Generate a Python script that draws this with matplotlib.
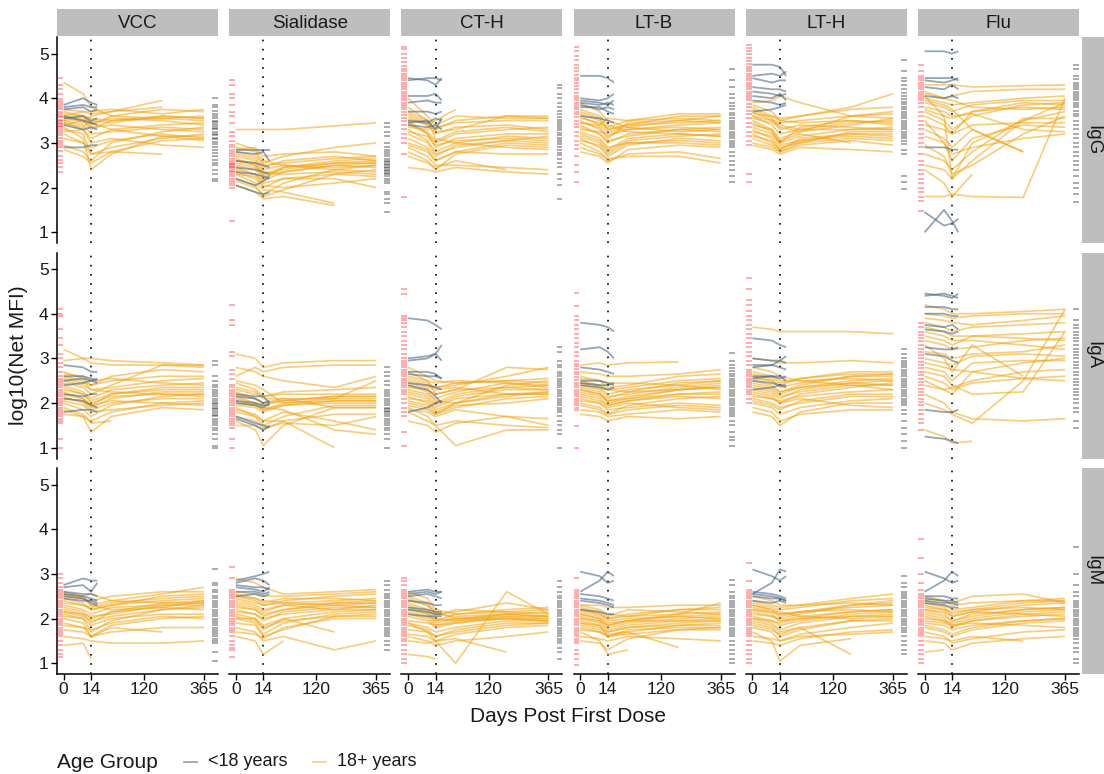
import numpy as np
import matplotlib
matplotlib.use("Agg")
import matplotlib.pyplot as plt
from matplotlib.lines import Line2D

plt.rcParams["font.family"] = ["Liberation Sans", "DejaVu Sans"]

antigens = ["VCC", "Sialidase", "CT-H", "LT-B", "LT-H", "Flu"]
isotypes = ["IgG", "IgA", "IgM"]
adult_days = [0, 7, 14, 42, 180, 365]
child_days = [0, 7, 14, 21]
x_ticks = [0, 14, 120, 365]
y_ticks = [1, 2, 3, 4, 5]
ref_day = 14

# ---------------- IgG ----------------
vcc_igg_child = [[3.8, 3.85, 3.8, 3.8], [3.85, 4.0, 3.9, 3.85], [3.75, 3.8, 3.7, 3.75],
                 [3.55, 3.6, 3.5, 3.55], [3.4, 3.3, 3.35, 3.3], [2.9, 2.9, 2.95, 2.95],
                 [3.6, 3.5, 3.45, 3.4]]
vcc_igg_adult = [[4.35, 4.1, 3.8, 3.6, 3.55, 3.5], [3.6, 3.7, 3.65, 3.7, 3.95, None],
                 [3.5, 3.55, 3.4, 3.6, 3.75, 3.7], [3.7, 3.6, 3.55, 3.5, 3.6, 3.55],
                 [3.45, 3.3, 3.1, 3.3, 3.4, 3.45], [3.3, 3.2, 2.75, 2.9, 3.1, 3.2],
                 [3.55, 3.5, 3.35, 3.4, 3.3, 3.25], [3.2, 3.0, 2.75, 2.8, 2.75, None],
                 [2.85, 2.7, 2.55, 2.8, 3.05, 3.1], [3.6, 3.45, 3.6, 3.7, 3.8, None],
                 [3.4, 3.5, 3.3, 3.5, 3.55, 3.6], [3.35, 3.1, 2.4, 2.75, 3.15, 3.15],
                 [3.75, 3.7, 3.7, 3.75, 3.65, 3.75], [3.1, 3.0, 2.9, 3.05, 3.2, 3.1],
                 [3.5, 3.4, 3.2, 3.25, 3.35, 3.3], [3.65, 3.6, 3.45, 3.55, 3.5, 3.4],
                 [3.25, 3.3, 3.0, 3.1, 2.95, 2.9], [3.45, 3.35, 3.5, 3.45, 3.6, 3.55],
                 [2.95, 2.8, 2.6, 3.0, 3.25, 3.35], [3.55, 3.6, 3.45, 3.3, 3.15, 3.05]]
vcc_igg_rug_l = [4.45, 4.3, 4.2, 4.1, 3.98, 3.93, 3.9, 3.85, 3.8, 3.75, 3.7, 3.65, 3.6, 3.57,
                 3.52, 3.48, 3.45, 3.42, 3.38, 3.35, 3.3, 3.27, 3.22, 3.18, 3.12, 3.05, 3.0,
                 2.95, 2.9, 2.82, 2.7, 2.62, 2.55, 2.45, 2.35]
vcc_igg_rug_r = [4.0, 3.85, 3.8, 3.72, 3.65, 3.6, 3.55, 3.5, 3.47, 3.42, 3.38, 3.33, 3.3, 3.25,
                 3.2, 3.17, 3.12, 3.08, 3.02, 2.98, 2.9, 2.85, 2.78, 2.7, 2.62, 2.55, 2.5, 2.4,
                 2.3, 2.2, 2.15]

sia_igg_child = [[2.85, 2.85, 2.85, 2.85], [2.8, 2.75, 2.8, 2.6], [2.6, 2.55, 2.5, 2.45],
                 [2.45, 2.4, 2.35, 2.3], [2.35, 2.3, 2.25, 2.2], [2.05, 1.9, 1.85, 1.9],
                 [2.2, 2.05, 2.15, 2.25]]
sia_igg_adult = [[3.3, 3.3, 3.3, 3.3, 3.38, 3.45], [2.8, 2.7, 2.55, 2.7, 2.9, 3.0],
                 [2.6, 2.5, 2.3, 2.4, 2.55, 2.6], [2.45, 2.3, 2.15, 2.35, 2.5, 2.55],
                 [2.9, 2.8, 2.5, 2.55, 2.65, 2.7], [2.3, 2.1, 1.95, 1.9, 1.65, None],
                 [2.7, 2.6, 2.4, 2.5, 2.4, 2.35], [2.2, 2.05, 1.8, 1.95, 2.3, 2.4],
                 [2.5, 2.4, 2.2, 2.45, 2.6, 2.65], [3.0, 2.85, 2.6, 2.5, 2.45, 2.5],
                 [2.35, 2.2, 2.0, 2.2, 2.2, 2.0], [2.6, 2.55, 2.35, 2.3, 2.35, 2.3],
                 [2.05, 1.9, 1.75, 1.8, 1.6, None], [2.75, 2.65, 2.45, 2.6, 2.7, 2.6],
                 [2.4, 2.3, 2.1, 2.2, 2.3, 2.25], [2.55, 2.45, 2.25, 2.35, 2.5, 2.45],
                 [2.85, 2.9, 2.7, 2.75, 2.8, 2.7], [2.15, 2.0, 1.85, 2.1, 2.4, 2.5],
                 [2.65, 2.5, 2.3, 2.45, 2.55, 2.55], [2.3, 2.25, 2.05, 2.0, 2.1, 2.2]]
sia_igg_rug_l = [4.4, 4.3, 4.1, 4.0, 3.85, 3.7, 3.6, 3.45, 3.25, 3.15, 3.05, 2.95, 2.9, 2.85,
                 2.8, 2.75, 2.7, 2.65, 2.6, 2.55, 2.52, 2.5, 2.47, 2.45, 2.42, 2.38, 2.35, 2.3,
                 2.25, 2.2, 2.15, 2.1, 2.05, 2.0, 1.25]
sia_igg_rug_r = [3.45, 3.35, 3.25, 3.15, 3.0, 2.9, 2.85, 2.8, 2.75, 2.7, 2.65, 2.6, 2.57, 2.53,
                 2.5, 2.47, 2.43, 2.4, 2.37, 2.33, 2.3, 2.25, 2.2, 2.15, 2.1, 1.9, 1.85, 1.75,
                 1.65, 1.45]

cth_igg_child = [[4.4, 4.45, 4.45, 4.4], [4.45, 4.4, 4.3, 4.45], [4.05, 4.05, 4.1, 3.95],
                 [3.9, 3.95, 3.9, 3.9], [3.7, 3.7, 3.65, 3.7], [3.5, 3.45, 3.55, 3.5],
                 [3.4, 3.35, 3.4, 3.3], [3.45, 3.5, 3.3, 3.55]]
cth_igg_adult = [[4.0, 3.6, 3.4, 3.6, 3.55, 3.55], [3.7, 3.5, 3.3, 3.5, 3.6, 3.55],
                 [3.5, 3.2, 2.9, 3.1, 3.2, 3.2], [3.3, 3.05, 2.8, 3.0, 3.15, 3.1],
                 [3.6, 3.4, 3.5, 3.75, None, None], [2.9, 2.7, 2.5, 2.5, 2.45, 2.4],
                 [3.45, 3.2, 3.0, 3.2, 3.3, 3.35], [2.45, 2.4, 2.35, 2.45, 2.35, 2.3],
                 [3.2, 3.0, 2.75, 2.9, 3.05, 3.0], [3.8, 3.5, 3.1, 3.0, 2.9, 2.85],
                 [3.1, 2.9, 2.7, 2.95, 3.05, 3.15], [3.55, 3.4, 3.2, 3.35, 3.4, 3.3],
                 [2.8, 2.6, 2.4, 2.75, 2.95, 2.9], [3.35, 3.3, 3.35, 3.45, 3.5, 3.5],
                 [3.0, 2.85, 2.6, 2.8, 2.75, 2.75], [3.65, 3.45, 3.25, 3.3, 3.6, 3.6],
                 [2.7, 2.55, 2.45, 2.6, 2.4, None], [3.25, 3.15, 2.95, 3.05, 3.1, 3.05],
                 [3.4, 3.25, 3.05, 3.25, 3.35, 3.25], [2.95, 2.8, 2.6, 2.8, 3.0, 2.95]]
cth_igg_rug_l = [5.15, 5.1, 5.0, 4.9, 4.8, 4.72, 4.65, 4.6, 4.55, 4.5, 4.45, 4.4, 4.35, 4.3,
                 4.25, 4.2, 4.15, 4.1, 4.05, 4.0, 3.95, 3.9, 3.85, 3.8, 3.75, 3.7, 3.62, 3.55,
                 3.48, 3.4, 3.3, 3.2, 3.1, 3.0, 2.75, 1.8]
cth_igg_rug_r = [4.3, 4.22, 4.1, 4.0, 3.9, 3.8, 3.72, 3.65, 3.58, 3.52, 3.47, 3.42, 3.38, 3.33,
                 3.28, 3.22, 3.17, 3.12, 3.07, 3.02, 2.97, 2.9, 2.85, 2.78, 2.72, 2.65, 2.55,
                 2.45, 2.3, 2.2, 2.05, 1.75]

ltb_igg_child = [[4.5, 4.5, 4.45, 4.35], [4.0, 3.95, 4.0, 4.1], [3.95, 3.9, 3.85, 3.95],
                 [3.9, 3.85, 3.9, 3.85], [3.85, 3.75, 3.8, 3.75], [3.8, 3.8, 3.7, 3.65],
                 [3.6, 3.55, 3.5, 3.45]]
ltb_igg_adult = [[3.9, 3.7, 3.5, 3.35, 3.5, 3.45], [3.7, 3.55, 3.3, 3.4, 3.45, 3.5],
                 [3.4, 3.2, 3.0, 3.2, 3.3, 3.25], [3.2, 3.05, 2.85, 3.1, 3.2, 3.15],
                 [3.5, 3.3, 3.1, 3.45, 3.5, 3.6], [3.0, 2.8, 2.6, 2.75, 2.8, 2.65],
                 [3.3, 3.25, 3.2, 3.3, 3.35, 3.3], [3.6, 3.4, 3.55, 3.5, 3.65, 3.65],
                 [3.1, 2.9, 2.7, 2.95, 3.1, 3.05], [2.9, 2.75, 2.65, 2.7, 2.7, 2.55],
                 [3.45, 3.35, 3.15, 3.3, 3.4, 3.45], [3.75, 3.6, 3.4, 3.25, 3.2, 3.15],
                 [3.25, 3.1, 2.9, 3.0, 3.05, 3.0], [3.55, 3.45, 3.35, 3.5, 3.55, 3.5],
                 [2.8, 2.7, 2.55, 2.85, 2.95, 2.9], [3.35, 3.2, 3.05, 3.15, 3.3, 3.35],
                 [3.65, 3.5, 3.3, 3.4, 3.6, 3.6], [3.05, 2.95, 2.75, 3.0, 3.0, 2.95],
                 [3.15, 3.0, 2.8, 3.05, 3.15, 3.2], [3.45, 3.4, 3.25, 3.35, 3.25, 3.3]]
ltb_igg_rug_l = [5.15, 5.05, 4.95, 4.85, 4.75, 4.68, 4.6, 4.52, 4.45, 4.4, 4.35, 4.28, 4.2,
                 4.12, 4.05, 4.0, 3.95, 3.9, 3.85, 3.8, 3.75, 3.7, 3.65, 3.58, 3.5, 3.42, 3.35,
                 3.25, 3.15, 3.05, 2.95, 2.87, 2.7, 2.5, 2.35, 2.12]
ltb_igg_rug_r = [4.65, 4.4, 4.25, 4.1, 4.0, 3.9, 3.82, 3.75, 3.68, 3.62, 3.56, 3.5, 3.45, 3.4,
                 3.35, 3.3, 3.25, 3.2, 3.15, 3.1, 3.05, 3.0, 2.95, 2.9, 2.8, 2.7, 2.6, 2.5, 2.4,
                 2.25, 2.12]

lth_igg_child = [[4.75, 4.75, 4.7, 4.5], [4.5, 4.55, 4.5, 4.6], [4.45, 4.35, 4.4, 4.4],
                 [4.25, 4.2, 4.2, 4.15], [4.15, 4.1, 4.05, 4.1], [4.05, 4.0, 4.1, 3.95],
                 [3.95, 3.9, 3.85, 3.9], [3.7, 3.75, 3.8, 3.85]]
lth_igg_adult = [[3.9, 3.95, 4.05, 3.9, 3.6, 3.55], [3.8, 3.6, 3.5, 3.6, 3.75, 3.8],
                 [3.6, 3.4, 3.2, 3.3, 3.45, 3.5], [3.5, 3.3, 3.0, 3.35, 3.5, 3.4],
                 [3.7, 3.5, 3.3, 3.4, 3.35, 3.3], [3.2, 3.0, 2.85, 3.1, 3.2, 3.2],
                 [3.4, 3.3, 3.1, 3.25, 3.6, 3.7], [3.3, 3.1, 2.9, 3.0, 3.1, 3.05],
                 [3.55, 3.45, 3.4, 3.3, 3.3, 3.3], [3.0, 2.9, 2.8, 2.95, 3.05, 2.95],
                 [3.65, 3.6, 3.55, 3.6, 3.8, 4.1], [3.25, 3.15, 3.0, 3.15, 3.3, 3.35],
                 [3.45, 3.25, 2.95, 3.05, 3.2, 3.15], [2.95, 2.85, 2.75, 2.9, 2.85, 2.8],
                 [3.75, 3.55, 3.35, 3.25, 3.4, 3.55], [3.15, 3.05, 2.85, 3.05, 3.15, 3.1],
                 [3.35, 3.2, 3.05, 3.2, 3.0, None], [3.6, 3.5, 3.45, 3.5, 3.6, 3.65],
                 [3.1, 2.95, 2.8, 3.0, 3.25, 3.25], [3.85, 3.7, 3.5, 3.45, 3.5, 3.45]]
lth_igg_rug_l = [5.2, 5.12, 5.05, 4.98, 4.9, 4.83, 4.77, 4.7, 4.65, 4.6, 4.55, 4.5, 4.45, 4.4,
                 4.35, 4.3, 4.25, 4.2, 4.15, 4.1, 4.05, 4.0, 3.95, 3.88, 3.8, 3.72, 3.65, 3.55,
                 3.45, 3.35, 3.25, 3.15, 3.05, 2.95, 2.3, 2.12]
lth_igg_rug_r = [4.85, 4.6, 4.45, 4.38, 4.3, 4.2, 4.12, 4.05, 3.98, 3.92, 3.86, 3.8, 3.75, 3.7,
                 3.65, 3.6, 3.55, 3.5, 3.45, 3.4, 3.35, 3.3, 3.25, 3.2, 3.15, 3.1, 3.05, 2.98,
                 2.85, 2.75, 2.25, 2.12, 1.97]

flu_igg_child = [[5.05, 5.05, 5.0, 5.05], [4.45, 4.45, 4.45, 4.4], [4.4, 4.35, 4.4, 4.45],
                 [4.25, 4.2, 4.3, 4.2], [4.05, 4.0, 4.05, 4.0], [2.9, 2.9, 2.85, 2.85],
                 [1.0, 1.5, 1.25, 1.0], [1.45, 1.15, 1.2, 1.3]]
flu_igg_adult = [[4.3, 4.3, 4.3, 4.25, 4.28, 4.3], [4.1, 4.0, 4.05, 4.15, 4.2, 4.2],
                 [4.0, 3.9, 3.85, 3.9, 4.0, 4.05], [3.9, 3.8, 3.7, 3.85, 3.95, 3.95],
                 [4.05, 3.6, 2.2, 3.0, 3.5, 3.9], [3.7, 3.5, 3.3, 3.6, 3.85, 3.9],
                 [3.8, 3.7, 3.6, 3.65, 3.3, 3.25], [3.5, 3.0, 2.6, 3.1, 3.4, 3.35],
                 [3.3, 3.1, 2.9, 3.3, 2.8, None], [3.6, 3.4, 3.2, 3.7, 3.8, 3.75],
                 [2.95, 2.7, 2.3, 2.5, 3.2, 3.6], [1.8, 1.8, 1.85, 1.8, 1.78, 4.0],
                 [2.4, 2.1, 1.8, 2.3, None, None], [3.4, 3.3, 3.2, 3.4, 3.45, 3.45],
                 [3.95, 3.85, 3.75, 3.3, 2.8, None], [2.5, 2.4, 2.2, 2.6, 3.5, 3.7],
                 [3.75, 3.6, 3.55, 3.7, 3.9, 3.85], [3.15, 3.0, 2.75, 2.9, 3.1, 3.2],
                 [4.15, 4.0, 3.95, 3.8, 3.75, 3.8], [2.75, 2.6, 2.4, 2.8, 3.55, 3.55]]
flu_igg_rug_l = [4.75, 4.6, 4.5, 4.45, 4.4, 4.35, 4.3, 4.25, 4.2, 4.15, 4.1, 4.05, 4.0, 3.95,
                 3.9, 3.8, 3.7, 3.6, 3.5, 3.4, 3.3, 3.2, 3.1, 3.0, 2.9, 2.75, 2.6, 2.5, 2.4, 2.3,
                 2.2, 2.1, 2.0, 1.9, 1.8, 1.7, 1.48]
flu_igg_rug_r = [4.75, 4.65, 4.5, 4.42, 4.35, 4.3, 4.25, 4.2, 4.15, 4.1, 4.05, 4.0, 3.95, 3.9,
                 3.85, 3.8, 3.72, 3.65, 3.6, 3.5, 3.4, 3.3, 3.2, 3.1, 3.0, 2.9, 2.8, 2.7, 2.6,
                 2.5, 2.4, 2.25, 2.1, 2.0, 1.85, 1.67]

# ---------------- IgA ----------------
vcc_iga_child = [[2.85, 2.8, 2.7, 2.7], [2.6, 2.6, 2.55, 2.5], [2.5, 2.55, 2.5, 2.45],
                 [2.4, 2.45, 2.5, 2.55], [2.2, 2.15, 2.2, 2.2], [1.8, 1.85, 1.85, 1.8],
                 [2.1, 2.05, 1.95, 1.9]]
vcc_iga_adult = [[3.2, 3.0, 2.9, 2.85, 2.85, 2.85], [2.95, 3.0, 3.0, 2.95, 2.9, 2.85],
                 [2.7, 2.55, 2.4, 2.6, 2.75, 2.7], [2.5, 2.4, 2.3, 2.35, 2.5, 2.55],
                 [2.3, 2.2, 2.05, 2.2, 2.3, 2.3], [2.15, 2.0, 1.85, 2.0, 2.1, 2.1],
                 [2.4, 2.25, 2.1, 2.3, 2.4, 2.45], [1.9, 1.75, 1.55, 1.6, None, None],
                 [2.6, 2.5, 2.3, 2.25, 2.2, 2.2], [2.0, 1.85, 1.7, 1.95, 2.15, 2.2],
                 [2.55, 2.45, 2.4, 2.5, 2.6, 2.6], [2.25, 2.1, 1.95, 2.05, 2.0, 1.95],
                 [1.85, 1.7, 1.35, 1.7, 1.9, 1.85], [2.45, 2.35, 2.2, 2.4, 2.85, 2.8],
                 [2.1, 2.05, 1.9, 2.1, 2.25, 2.25], [2.35, 2.2, 2.0, 2.15, 2.2, 2.15],
                 [2.65, 2.6, 2.5, 2.55, 2.45, 2.4], [1.75, 1.7, 1.6, 1.8, 2.0, 2.05],
                 [2.2, 2.1, 1.95, 2.2, 2.35, 2.35], [2.05, 1.95, 1.8, 1.85, 1.95, 2.0]]
vcc_iga_rug_l = [4.1, 4.0, 3.95, 3.65, 3.45, 3.3, 3.1, 3.0, 2.9, 2.8, 2.7, 2.6, 2.55, 2.5, 2.45,
                 2.4, 2.35, 2.3, 2.25, 2.2, 2.15, 2.1, 2.05, 2.0, 1.95, 1.9, 1.85, 1.8, 1.75,
                 1.7, 1.65, 1.6, 1.55, 1.2, 1.0]
vcc_iga_rug_r = [2.95, 2.85, 2.6, 2.5, 2.4, 2.35, 2.3, 2.25, 2.2, 2.15, 2.1, 2.05, 2.0, 1.97,
                 1.93, 1.9, 1.86, 1.82, 1.78, 1.74, 1.7, 1.65, 1.6, 1.55, 1.5, 1.45, 1.4, 1.3,
                 1.2, 1.05, 1.0]

sia_iga_child = [[2.2, 2.15, 2.15, 2.0], [2.15, 2.1, 2.0, 2.05], [2.05, 2.0, 1.95, 1.95],
                 [2.0, 1.95, 1.9, 2.0], [1.7, 1.55, 1.5, 1.45], [1.65, 1.5, 1.4, 1.5]]
sia_iga_adult = [[3.1, 3.0, 2.8, 2.9, 2.95, 2.95], [2.6, 2.8, 2.7, 2.8, 2.85, 2.85],
                 [2.8, 2.7, 2.6, 2.5, 2.35, 2.6], [2.2, 2.1, 2.0, 2.1, 2.1, 2.1],
                 [2.0, 1.95, 1.85, 2.0, 2.05, 2.05], [1.9, 1.7, 1.5, 1.7, 1.95, 1.95],
                 [2.3, 2.2, 2.15, 2.2, 2.2, 2.2], [1.6, 1.4, 1.05, 1.5, 1.9, 1.9],
                 [2.1, 2.0, 1.9, 1.85, 1.4, 1.3], [1.8, 1.7, 1.6, 1.6, 1.0, None],
                 [2.5, 2.4, 2.3, 2.0, 2.1, 2.5], [1.95, 1.9, 1.8, 1.95, 2.0, 2.0],
                 [2.15, 2.0, 1.95, 2.05, 2.15, 2.15], [1.7, 1.6, 1.45, 1.55, 1.5, 1.7],
                 [2.35, 2.25, 2.1, 2.1, 1.9, 1.9], [1.5, 1.5, 1.4, 1.6, 1.75, 1.75],
                 [2.05, 1.95, 1.85, 1.95, 2.05, 2.05], [2.45, 2.3, 2.15, 2.25, 2.3, 2.35],
                 [1.85, 1.75, 1.6, 1.8, 1.6, 1.4], [2.25, 2.1, 2.0, 2.05, 2.15, 2.15]]
sia_iga_rug_l = [4.2, 3.85, 3.75, 3.15, 3.05, 2.75, 2.65, 2.55, 2.4, 2.35, 2.3, 2.25, 2.2, 2.15,
                 2.1, 2.05, 2.0, 1.95, 1.9, 1.85, 1.8, 1.75, 1.7, 1.65, 1.6, 1.55, 1.5, 1.45,
                 1.2, 1.0]
sia_iga_rug_r = [2.8, 2.7, 2.6, 2.5, 2.4, 2.3, 2.25, 2.2, 2.15, 2.1, 2.05, 2.0, 1.95, 1.9, 1.87,
                 1.83, 1.8, 1.75, 1.7, 1.65, 1.6, 1.55, 1.5, 1.45, 1.4, 1.3, 1.2, 1.0]

cth_iga_child = [[3.9, 3.85, 3.75, 3.65], [3.0, 3.05, 3.1, 3.3], [2.95, 3.0, 3.1, 2.95],
                 [2.7, 2.7, 2.65, 2.55], [2.65, 2.6, 2.6, 2.55], [2.45, 2.4, 2.35, 2.3],
                 [2.4, 2.3, 2.15, 2.0], [1.8, 1.9, 2.0, 2.05]]
cth_iga_adult = [[2.8, 2.6, 2.5, 2.45, 2.5, 2.55], [2.5, 2.4, 2.35, 2.4, 2.6, 2.8],
                 [2.3, 2.2, 2.1, 2.25, 2.45, 2.4], [2.2, 2.1, 1.95, 2.15, 2.3, 2.3],
                 [2.4, 2.25, 2.05, 2.0, 2.4, 2.5], [2.0, 1.9, 1.75, 1.9, 2.1, 2.15],
                 [2.6, 2.5, 2.45, 2.5, 2.45, 2.35], [1.9, 1.7, 1.5, 1.6, 1.5, 1.45],
                 [2.15, 2.0, 1.85, 2.0, 2.2, 2.25], [1.8, 1.6, 1.5, 1.05, 1.4, 1.4],
                 [2.35, 2.3, 2.2, 2.3, 2.35, 2.3], [2.05, 1.95, 1.8, 1.95, 2.0, 2.1],
                 [2.7, 2.5, 2.2, 2.3, 2.8, 2.75], [1.85, 1.8, 1.7, 1.85, 1.7, 1.5],
                 [2.25, 2.15, 2.0, 2.2, 2.35, 2.4], [2.45, 2.35, 2.3, 2.35, 2.2, 2.2],
                 [1.6, 1.5, 1.35, 1.55, 1.7, 1.65], [2.1, 2.05, 1.9, 2.1, 2.2, 2.2],
                 [2.55, 2.45, 2.35, 2.45, 2.5, 2.45], [1.95, 1.85, 1.75, 2.0, 2.15, 2.25]]
cth_iga_rug_l = [4.55, 4.45, 3.95, 3.9, 3.85, 3.8, 3.7, 3.6, 3.5, 3.4, 3.3, 3.2, 3.1, 3.0, 2.95,
                 2.9, 2.85, 2.8, 2.75, 2.7, 2.65, 2.6, 2.55, 2.5, 2.45, 2.4, 2.35, 2.3, 2.25,
                 2.2, 2.1, 2.0, 1.9, 1.8, 1.7, 1.35, 1.05]
cth_iga_rug_r = [3.25, 3.15, 2.95, 2.85, 2.8, 2.7, 2.65, 2.6, 2.55, 2.5, 2.45, 2.4, 2.35, 2.3,
                 2.25, 2.2, 2.15, 2.1, 2.05, 2.0, 1.95, 1.9, 1.85, 1.8, 1.7, 1.6, 1.5, 1.4, 1.3,
                 1.0]

ltb_iga_child = [[3.8, 3.75, 3.7, 3.6], [3.2, 3.25, 3.15, 3.0], [2.8, 2.75, 2.7, 2.65],
                 [2.5, 2.5, 2.45, 2.4], [2.45, 2.4, 2.4, 2.45], [2.4, 2.35, 2.3, 2.35]]
ltb_iga_adult = [[2.85, 2.9, 2.85, 2.9, 2.92, None], [2.7, 2.65, 2.6, 2.6, 2.65, 2.75],
                 [2.5, 2.4, 2.3, 2.35, 2.5, 2.55], [2.4, 2.3, 2.15, 2.2, 2.35, 2.45],
                 [2.3, 2.2, 2.05, 2.15, 2.3, 2.35], [2.2, 2.1, 1.95, 2.05, 2.2, 2.25],
                 [2.45, 2.35, 2.2, 2.3, 2.4, 2.5], [2.1, 2.0, 1.85, 1.9, 2.0, 1.95],
                 [2.55, 2.5, 2.45, 2.45, 2.4, 2.3], [2.0, 1.9, 1.75, 1.85, 1.95, 1.9],
                 [2.35, 2.25, 2.0, 2.1, 2.2, 2.2], [1.85, 1.8, 1.7, 1.75, 1.85, 1.8],
                 [2.25, 2.15, 2.05, 2.1, 2.3, 2.4], [2.6, 2.5, 2.35, 2.4, 2.6, 2.65],
                 [1.75, 1.7, 1.6, 1.7, 1.65, 1.7], [2.15, 2.05, 1.95, 2.05, 2.15, 2.1],
                 [2.45, 2.4, 2.3, 2.25, 2.3, 2.35], [1.95, 1.85, 1.75, 1.95, 2.1, 2.15],
                 [2.3, 2.2, 2.1, 2.25, 2.45, 2.5], [2.05, 2.0, 1.9, 2.0, 1.9, 1.85]]
ltb_iga_rug_l = [4.47, 4.17, 3.95, 3.85, 3.75, 3.65, 3.55, 3.45, 3.35, 3.25, 3.15, 3.05, 2.95,
                 2.88, 2.82, 2.76, 2.7, 2.64, 2.58, 2.52, 2.46, 2.4, 2.35, 2.3, 2.25, 2.2, 2.15,
                 2.1, 2.05, 2.0, 1.95, 1.9, 1.85, 1.48, 1.0]
ltb_iga_rug_r = [3.13, 2.95, 2.85, 2.78, 2.72, 2.66, 2.6, 2.55, 2.5, 2.45, 2.4, 2.35, 2.3, 2.25,
                 2.2, 2.15, 2.1, 2.05, 2.0, 1.95, 1.9, 1.85, 1.8, 1.75, 1.7, 1.6, 1.5, 1.35,
                 1.25, 1.18, 1.04]

lth_iga_child = [[3.45, 3.4, 3.3, 3.25], [3.0, 2.95, 2.95, 2.9], [2.85, 2.85, 2.8, 2.75],
                 [2.8, 2.85, 2.95, 3.05], [2.6, 2.6, 2.55, 2.6], [2.55, 2.6, 2.6, 2.5],
                 [2.5, 2.45, 2.4, 2.35], [2.3, 2.35, 2.4, 2.4]]
lth_iga_adult = [[3.7, 3.65, 3.6, 3.6, 3.6, 3.55], [3.0, 2.95, 2.9, 2.9, 2.95, 2.9],
                 [2.6, 2.5, 2.4, 2.55, 2.7, 2.7], [2.5, 2.4, 2.25, 2.4, 2.6, 2.65],
                 [2.4, 2.3, 2.2, 2.35, 2.5, 2.55], [2.2, 2.1, 2.0, 2.2, 2.35, 2.45],
                 [2.3, 2.2, 2.1, 2.3, 2.45, 2.4], [2.0, 1.9, 1.75, 1.9, 2.05, 2.1],
                 [2.7, 2.6, 2.5, 2.5, 2.55, 2.5], [1.9, 1.8, 1.6, 1.75, 1.85, 1.85],
                 [2.55, 2.5, 2.35, 2.45, 2.6, 2.6], [2.1, 2.0, 1.9, 2.0, 2.15, 2.15],
                 [2.35, 2.25, 2.15, 2.25, 2.4, 2.4], [2.8, 2.7, 2.6, 2.5, 2.4, 2.3],
                 [1.8, 1.7, 1.5, 1.8, 2.0, 2.0], [2.45, 2.35, 2.25, 2.35, 2.45, 2.5],
                 [2.15, 2.1, 2.05, 2.15, 2.25, 2.3], [2.25, 2.15, 2.0, 2.1, 1.95, 1.9],
                 [2.65, 2.55, 2.45, 2.55, 2.65, 2.65], [2.05, 1.95, 1.85, 2.05, 2.2, 2.2]]
lth_iga_rug_l = [4.8, 4.55, 4.3, 4.2, 4.05, 3.95, 3.85, 3.75, 3.65, 3.55, 3.45, 3.35, 3.25, 3.15,
                 3.05, 2.95, 2.85, 2.75, 2.7, 2.65, 2.6, 2.55, 2.5, 2.45, 2.4, 2.35, 2.3, 2.25,
                 2.2, 2.1, 2.0]
lth_iga_rug_r = [3.2, 3.1, 3.0, 2.95, 2.9, 2.85, 2.8, 2.75, 2.7, 2.65, 2.6, 2.55, 2.5, 2.45, 2.4,
                 2.35, 2.3, 2.25, 2.2, 2.15, 2.1, 2.05, 2.0, 1.95, 1.85, 1.75, 1.6, 1.45, 1.3,
                 1.15, 1.0]

flu_iga_child = [[4.45, 4.4, 4.35, 4.45], [4.4, 4.45, 4.4, 4.35], [4.15, 4.15, 4.1, 4.1],
                 [4.0, 4.0, 3.95, 3.95], [3.75, 3.7, 3.75, 3.65], [3.65, 3.6, 3.55, 3.6],
                 [3.25, 3.2, 3.2, 3.25], [3.1, 3.05, 2.95, 2.9], [1.85, 1.8, 1.8, 1.85],
                 [1.25, 1.2, 1.15, 1.1]]
flu_iga_adult = [[4.2, 4.1, 4.0, 4.0, 4.05, 4.1], [4.0, 3.95, 3.9, 3.95, 4.0, 4.0],
                 [3.8, 3.7, 3.6, 3.7, 3.75, 3.8], [3.7, 3.6, 3.5, 3.5, 3.45, 3.4],
                 [3.5, 3.4, 3.3, 3.5, 3.55, 3.6], [3.3, 3.0, 2.7, 3.3, 2.6, None],
                 [3.0, 2.9, 2.85, 3.05, 3.1, 3.05], [3.6, 3.5, 3.4, 3.4, 3.3, 3.2],
                 [2.7, 2.6, 2.4, 2.2, 2.25, 3.6], [2.5, 2.3, 2.2, 2.7, 2.9, 3.0],
                 [2.9, 2.8, 2.75, 2.7, 2.55, 2.5], [2.0, 1.85, 1.75, 1.55, 2.5, 4.1],
                 [2.2, 2.0, 1.8, 1.65, 1.6, 1.65], [3.15, 3.1, 3.0, 3.1, 3.15, 3.3],
                 [2.4, 2.3, 2.35, 2.5, 2.7, 2.75], [3.4, 3.3, 3.2, 3.25, 3.4, 3.45],
                 [1.4, 1.25, 1.1, 1.15, None, None], [2.8, 2.7, 2.5, 2.9, 2.95, 2.95],
                 [3.9, 3.85, 3.8, 3.75, 3.85, 3.95], [2.6, 2.45, 2.3, 2.45, 2.55, 2.6]]
flu_iga_rug_l = [3.8, 3.7, 3.6, 3.52, 3.45, 3.38, 3.3, 3.22, 3.15, 3.08, 3.0, 2.92, 2.85, 2.78,
                 2.7, 2.62, 2.55, 2.48, 2.4, 2.32, 2.25, 2.18, 2.1, 2.02, 1.95, 1.85, 1.75, 1.65,
                 1.55, 1.4]
flu_iga_rug_r = [4.1, 3.85, 3.75, 3.68, 3.6, 3.52, 3.45, 3.38, 3.3, 3.22, 3.15, 3.08, 3.0, 2.92,
                 2.85, 2.78, 2.7, 2.62, 2.55, 2.48, 2.4, 2.32, 2.25, 2.18, 2.1, 2.0, 1.9, 1.8,
                 1.6, 1.45]

# ---------------- IgM ----------------
vcc_igm_child = [[2.75, 2.9, 2.85, 2.85], [2.7, 2.75, 2.6, 2.8], [2.6, 2.55, 2.55, 2.5],
                 [2.55, 2.5, 2.45, 2.4], [2.5, 2.45, 2.35, 2.3], [2.45, 2.4, 2.4, 2.35]]
vcc_igm_adult = [[2.6, 2.5, 2.3, 2.4, 2.55, 2.7], [2.5, 2.45, 2.4, 2.5, 2.6, 2.6],
                 [2.2, 2.1, 1.9, 2.15, 2.35, 2.4], [2.1, 2.0, 1.7, 1.95, 2.2, 2.3],
                 [2.4, 2.3, 2.2, 2.3, 2.4, 2.45], [2.0, 1.9, 1.6, 1.8, 1.7, None],
                 [2.3, 2.2, 2.1, 2.25, 2.3, 2.3], [1.6, 1.55, 1.5, 1.45, 1.45, 1.5],
                 [2.55, 2.5, 2.55, 2.4, 2.35, 2.35], [1.9, 1.8, 1.6, 1.85, 2.0, 2.05],
                 [1.4, 1.45, 1.1, None, None, None], [2.15, 2.05, 1.95, 2.05, 2.2, 2.25],
                 [2.45, 2.35, 2.2, 2.3, 2.5, 2.55], [1.75, 1.7, 1.6, 1.7, 1.8, 1.8],
                 [2.25, 2.15, 2.0, 2.15, 2.25, 2.2], [2.05, 2.0, 1.85, 2.0, 2.1, 2.1],
                 [2.35, 2.3, 2.25, 2.35, 2.45, 2.5], [1.85, 1.8, 1.75, 1.9, 2.05, 2.0],
                 [2.55, 2.45, 2.3, 2.2, 2.25, 2.4], [2.15, 2.1, 2.05, 2.1, 2.3, 2.35]]
vcc_igm_rug_l = [3.0, 2.9, 2.8, 2.7, 2.65, 2.6, 2.55, 2.5, 2.45, 2.4, 2.35, 2.3, 2.25, 2.2, 2.15,
                 2.1, 2.05, 2.0, 1.95, 1.9, 1.85, 1.8, 1.75, 1.7, 1.65, 1.6, 1.5, 1.4, 1.3, 1.2,
                 1.15]
vcc_igm_rug_r = [3.1, 2.8, 2.75, 2.65, 2.6, 2.5, 2.45, 2.4, 2.35, 2.3, 2.25, 2.2, 2.15, 2.1, 2.05,
                 2.0, 1.95, 1.9, 1.85, 1.8, 1.75, 1.7, 1.65, 1.6, 1.55, 1.5, 1.45, 1.25, 1.05]

sia_igm_child = [[2.85, 2.95, 3.0, 3.05], [2.8, 2.9, 2.85, 2.75], [2.75, 2.7, 2.7, 2.65],
                 [2.7, 2.65, 2.6, 2.7], [2.6, 2.6, 2.55, 2.6], [2.5, 2.55, 2.5, 2.55]]
sia_igm_adult = [[2.9, 2.8, 2.7, 2.55, 2.6, 2.65], [2.6, 2.55, 2.5, 2.5, 2.55, 2.6],
                 [2.5, 2.4, 2.3, 2.35, 2.4, 2.45], [2.3, 2.2, 2.1, 2.2, 2.3, 2.35],
                 [2.2, 2.1, 1.95, 2.15, 2.25, 2.25], [2.0, 1.9, 1.65, 1.9, 2.1, 2.15],
                 [2.4, 2.3, 2.2, 2.3, 2.35, 2.35], [1.8, 1.7, 1.5, 1.6, 1.3, 1.5],
                 [2.1, 2.0, 1.85, 2.0, 2.15, 2.2], [1.6, 1.5, 1.2, 1.5, None, None],
                 [2.45, 2.35, 2.3, 2.4, 2.5, 2.55], [1.9, 1.85, 1.6, 1.75, 2.05, 2.1],
                 [2.35, 2.25, 2.15, 2.3, 2.2, 2.2], [2.0, 2.0, 1.75, 2.0, 1.7, None],
                 [2.55, 2.45, 2.35, 2.45, 2.45, 2.4], [2.15, 2.1, 2.0, 2.1, 2.2, 2.3],
                 [1.7, 1.65, 1.55, 1.8, 2.0, 2.0], [2.25, 2.2, 2.05, 2.2, 2.35, 2.4],
                 [2.5, 2.45, 2.4, 2.35, 2.3, 2.25], [2.05, 1.95, 1.8, 1.95, 2.05, 2.05]]
sia_igm_rug_l = [3.15, 2.9, 2.65, 2.6, 2.55, 2.5, 2.45, 2.4, 2.35, 2.3, 2.25, 2.2, 2.15, 2.1, 2.05,
                 2.0, 1.95, 1.9, 1.85, 1.8, 1.75, 1.7, 1.6, 1.5, 1.4, 1.35, 1.3, 1.15]
sia_igm_rug_r = [2.85, 2.75, 2.65, 2.55, 2.5, 2.45, 2.4, 2.35, 2.3, 2.25, 2.2, 2.15, 2.1, 2.05,
                 2.0, 1.95, 1.9, 1.85, 1.8, 1.75, 1.7, 1.65, 1.6, 1.5, 1.4, 1.3]

cth_igm_child = [[2.6, 2.65, 2.6, 2.6], [2.55, 2.6, 2.55, 2.6], [2.5, 2.55, 2.5, 2.45],
                 [2.4, 2.35, 2.3, 2.3], [2.25, 2.2, 2.15, 2.15], [2.2, 2.15, 2.1, 2.1],
                 [2.1, 2.05, 2.05, 2.05]]
cth_igm_adult = [[2.6, 2.45, 2.2, 2.1, 2.15, 2.2], [2.4, 2.3, 2.1, 2.05, 2.1, 2.15],
                 [2.2, 2.1, 1.95, 2.0, 2.05, 2.0], [2.1, 2.0, 1.85, 1.9, 2.0, 1.95],
                 [2.3, 2.15, 2.0, 1.95, 2.1, 2.05], [1.9, 1.8, 1.7, 1.8, 1.95, 1.95],
                 [1.9, 1.7, 1.5, 1.0, 2.6, 2.1], [1.6, 1.5, 1.4, 1.5, 1.6, 1.7],
                 [2.5, 2.35, 2.15, 2.0, 2.0, 1.95], [1.75, 1.7, 1.6, 1.7, 1.85, 1.9],
                 [2.25, 2.1, 1.95, 2.1, 2.2, 2.25], [1.5, 1.45, 1.5, 1.55, 1.25, None],
                 [2.05, 1.95, 1.8, 1.9, 2.05, 2.05], [2.35, 2.2, 2.05, 2.2, 2.15, 2.1],
                 [1.85, 1.75, 1.6, 1.75, 1.9, 1.9], [2.15, 2.05, 1.9, 2.0, 2.1, 2.05],
                 [1.2, 1.15, 1.1, None, None, None], [1.95, 1.9, 1.85, 1.95, 2.0, 2.0],
                 [2.45, 2.3, 2.1, 2.15, 2.35, 2.2], [1.65, 1.6, 1.5, 1.65, 1.8, 1.85]]
cth_igm_rug_l = [2.9, 2.85, 2.75, 2.65, 2.6, 2.55, 2.5, 2.45, 2.4, 2.35, 2.3, 2.25, 2.2, 2.15,
                 2.1, 2.05, 2.0, 1.95, 1.9, 1.85, 1.8, 1.75, 1.7, 1.65, 1.6, 1.55, 1.5, 1.4, 1.3,
                 1.2, 1.1, 1.0]
cth_igm_rug_r = [2.85, 2.7, 2.6, 2.5, 2.45, 2.4, 2.35, 2.3, 2.25, 2.2, 2.15, 2.1, 2.05, 2.0,
                 1.95, 1.9, 1.85, 1.8, 1.75, 1.7, 1.65, 1.6, 1.55, 1.5, 1.45, 1.35, 1.25, 1.1]

ltb_igm_child = [[2.6, 2.85, 3.05, 2.95], [3.05, 2.95, 2.8, 2.85], [2.55, 2.5, 2.45, 2.4],
                 [2.45, 2.4, 2.35, 2.3], [2.4, 2.35, 2.3, 2.25], [2.2, 2.15, 2.1, 2.1]]
ltb_igm_adult = [[2.3, 2.2, 2.1, 2.05, 2.1, 2.35], [2.2, 2.1, 2.0, 2.1, 2.2, 2.25],
                 [2.1, 2.0, 1.85, 1.95, 2.05, 2.1], [2.0, 1.9, 1.75, 1.85, 1.95, 2.0],
                 [1.9, 1.85, 1.7, 1.8, 1.9, 1.95], [1.8, 1.7, 1.6, 1.7, 1.85, 1.9],
                 [2.25, 2.15, 2.05, 2.2, 2.15, 2.1], [1.7, 1.5, 1.2, 1.3, None, None],
                 [2.15, 2.05, 1.95, 2.0, 2.05, 2.0], [1.6, 1.55, 1.5, 1.6, 1.55, 1.5],
                 [1.95, 1.85, 1.6, 1.75, 1.8, 1.8], [2.3, 2.3, 2.25, 2.25, 2.3, 2.3],
                 [1.85, 1.75, 1.65, 1.7, 1.35, None], [2.05, 1.95, 1.8, 1.9, 2.0, 2.05],
                 [1.5, 1.45, 1.3, 1.55, 1.75, 1.8], [2.1, 2.0, 1.9, 1.95, 1.95, 1.95],
                 [1.75, 1.7, 1.6, 1.65, 1.75, 1.75], [2.2, 2.1, 2.0, 2.05, 2.2, 2.2],
                 [1.9, 1.8, 1.7, 1.8, 1.85, 1.85], [2.0, 1.95, 1.85, 1.95, 2.1, 2.15]]
ltb_igm_rug_l = [2.9, 2.64, 2.6, 2.55, 2.5, 2.45, 2.4, 2.35, 2.3, 2.25, 2.2, 2.15, 2.1, 2.05, 2.0,
                 1.95, 1.9, 1.85, 1.8, 1.75, 1.7, 1.65, 1.6, 1.55, 1.5, 1.45, 1.3, 1.2, 1.1, 0.96]
ltb_igm_rug_r = [2.87, 2.75, 2.6, 2.5, 2.45, 2.4, 2.35, 2.3, 2.25, 2.2, 2.15, 2.1, 2.05, 2.0,
                 1.95, 1.9, 1.85, 1.8, 1.75, 1.7, 1.65, 1.6, 1.5, 1.4, 1.3, 1.2, 1.1, 1.0]

lth_igm_child = [[2.55, 2.8, 3.1, 3.05], [3.1, 2.95, 2.85, 2.95], [2.6, 2.55, 2.5, 2.45],
                 [2.55, 2.5, 2.45, 2.4], [2.5, 2.45, 2.45, 2.4], [2.4, 2.35, 2.4, 2.35]]
lth_igm_adult = [[2.5, 2.4, 2.3, 2.3, 2.45, 2.55], [2.3, 2.2, 2.1, 2.15, 2.25, 2.3],
                 [2.2, 2.1, 1.95, 2.0, 2.15, 2.2], [2.0, 1.9, 1.75, 1.9, 2.05, 2.1],
                 [2.1, 2.05, 2.0, 2.1, 2.3, 2.35], [1.9, 1.8, 1.6, 1.75, 1.95, 2.0],
                 [1.8, 1.7, 1.5, 1.65, 1.8, 1.9], [2.35, 2.25, 2.2, 2.25, 2.4, 2.45],
                 [1.7, 1.5, 1.05, 1.4, 1.55, None], [2.25, 2.15, 2.05, 2.15, 2.2, 2.15],
                 [1.6, 1.55, 1.5, 1.6, 1.65, 1.7], [2.05, 1.95, 1.85, 1.95, 2.1, 2.15],
                 [2.4, 2.3, 2.25, 2.3, 2.35, 2.3], [1.95, 1.85, 1.7, 1.8, 1.2, None],
                 [2.15, 2.05, 1.95, 2.05, 2.15, 2.2], [1.85, 1.75, 1.65, 1.8, 1.95, 1.95],
                 [2.3, 2.2, 2.15, 2.05, 2.0, 2.05], [1.5, 1.45, 1.4, 1.55, 1.7, 1.75],
                 [2.2, 2.15, 2.1, 2.15, 2.3, 2.4], [2.0, 1.95, 1.9, 2.0, 2.05, 2.05]]
lth_igm_rug_l = [3.24, 2.85, 2.65, 2.6, 2.55, 2.5, 2.45, 2.4, 2.35, 2.3, 2.25, 2.2, 2.15, 2.1,
                 2.05, 2.0, 1.95, 1.9, 1.85, 1.8, 1.75, 1.7, 1.65, 1.6, 1.5, 1.4, 1.3, 1.2, 1.1,
                 1.0]
lth_igm_rug_r = [2.95, 2.8, 2.7, 2.6, 2.55, 2.5, 2.45, 2.4, 2.35, 2.3, 2.25, 2.2, 2.15, 2.1, 2.05,
                 2.0, 1.95, 1.9, 1.85, 1.8, 1.75, 1.7, 1.6, 1.5, 1.4, 1.3, 1.2]

flu_igm_child = [[2.6, 2.85, 3.05, 2.95], [3.05, 2.9, 2.8, 2.85], [2.5, 2.5, 2.45, 2.45],
                 [2.45, 2.4, 2.4, 2.35], [2.4, 2.35, 2.35, 2.3], [2.35, 2.3, 2.25, 2.25]]
flu_igm_adult = [[2.5, 2.4, 2.3, 2.35, 2.4, 2.45], [2.4, 2.3, 2.2, 2.25, 2.4, 2.4],
                 [2.3, 2.2, 2.05, 2.15, 2.3, 2.35], [2.2, 2.1, 1.95, 2.1, 2.2, 2.25],
                 [2.0, 1.95, 1.9, 2.0, 2.15, 2.2], [2.1, 2.0, 1.85, 1.95, 2.05, 2.1],
                 [1.8, 1.7, 1.6, 1.75, 1.9, 1.95], [2.45, 2.4, 2.35, 2.5, 2.55, 2.35],
                 [1.6, 1.55, 1.5, 1.6, 1.5, None], [1.9, 1.85, 1.75, 1.85, 1.95, 2.0],
                 [2.35, 2.25, 2.1, 2.2, 2.25, 2.2], [1.7, 1.6, 1.45, 1.55, 1.7, 1.75],
                 [2.2, 2.15, 2.05, 2.15, 2.1, 2.05], [1.5, 1.45, 1.3, 1.45, 1.55, 1.6],
                 [2.05, 1.95, 1.8, 1.95, 2.1, 2.15], [1.25, 1.3, None, None, None, None],
                 [2.25, 2.2, 2.15, 2.2, 2.35, 2.4], [1.95, 1.9, 1.85, 1.9, 1.85, 1.8],
                 [2.15, 2.05, 1.95, 2.05, 2.2, 2.25], [1.85, 1.75, 1.65, 1.8, 1.95, 2.0]]
flu_igm_rug_l = [3.77, 3.35, 3.0, 2.8, 2.65, 2.55, 2.5, 2.45, 2.4, 2.35, 2.3, 2.25, 2.2, 2.15, 2.1,
                 2.05, 2.0, 1.95, 1.9, 1.85, 1.8, 1.75, 1.7, 1.65, 1.6, 1.5, 1.4, 1.3, 1.2, 1.1,
                 1.0]
flu_igm_rug_r = [3.6, 3.0, 2.75, 2.6, 2.5, 2.4, 2.35, 2.3, 2.25, 2.2, 2.15, 2.1, 2.05, 2.0, 1.95,
                 1.9, 1.85, 1.8, 1.75, 1.7, 1.65, 1.6, 1.55, 1.45, 1.35, 1.25, 1.1, 1.0]

panels = {
    ("VCC", "IgG"): (vcc_igg_child, vcc_igg_adult, vcc_igg_rug_l, vcc_igg_rug_r),
    ("Sialidase", "IgG"): (sia_igg_child, sia_igg_adult, sia_igg_rug_l, sia_igg_rug_r),
    ("CT-H", "IgG"): (cth_igg_child, cth_igg_adult, cth_igg_rug_l, cth_igg_rug_r),
    ("LT-B", "IgG"): (ltb_igg_child, ltb_igg_adult, ltb_igg_rug_l, ltb_igg_rug_r),
    ("LT-H", "IgG"): (lth_igg_child, lth_igg_adult, lth_igg_rug_l, lth_igg_rug_r),
    ("Flu", "IgG"): (flu_igg_child, flu_igg_adult, flu_igg_rug_l, flu_igg_rug_r),
    ("VCC", "IgA"): (vcc_iga_child, vcc_iga_adult, vcc_iga_rug_l, vcc_iga_rug_r),
    ("Sialidase", "IgA"): (sia_iga_child, sia_iga_adult, sia_iga_rug_l, sia_iga_rug_r),
    ("CT-H", "IgA"): (cth_iga_child, cth_iga_adult, cth_iga_rug_l, cth_iga_rug_r),
    ("LT-B", "IgA"): (ltb_iga_child, ltb_iga_adult, ltb_iga_rug_l, ltb_iga_rug_r),
    ("LT-H", "IgA"): (lth_iga_child, lth_iga_adult, lth_iga_rug_l, lth_iga_rug_r),
    ("Flu", "IgA"): (flu_iga_child, flu_iga_adult, flu_iga_rug_l, flu_iga_rug_r),
    ("VCC", "IgM"): (vcc_igm_child, vcc_igm_adult, vcc_igm_rug_l, vcc_igm_rug_r),
    ("Sialidase", "IgM"): (sia_igm_child, sia_igm_adult, sia_igm_rug_l, sia_igm_rug_r),
    ("CT-H", "IgM"): (cth_igm_child, cth_igm_adult, cth_igm_rug_l, cth_igm_rug_r),
    ("LT-B", "IgM"): (ltb_igm_child, ltb_igm_adult, ltb_igm_rug_l, ltb_igm_rug_r),
    ("LT-H", "IgM"): (lth_igm_child, lth_igm_adult, lth_igm_rug_l, lth_igm_rug_r),
    ("Flu", "IgM"): (flu_igm_child, flu_igm_adult, flu_igm_rug_l, flu_igm_rug_r),
}

# ---------------- styling / layout ----------------
CHILD_COLOR = "#4d6987"
ADULT_COLOR = "#f2a516"
STRIP_COLOR = "#bebebe"
TEXT_COLOR = "#1a1a1a"
W, H = 1104, 774
fig = plt.figure(figsize=(W / 100, H / 100), dpi=100)

col_left = [57 + 172.2 * j for j in range(6)]
panel_w = 161
row_top = [37, 252.5, 468]
panel_h = 206
strip_h = 27

x_lo, x_hi = -0.9, 21.0
y_lo, y_hi = 0.76, 5.37

child_x = np.sqrt(child_days)
adult_x = np.sqrt(adult_days)


def fig_rect(left, top, width, height):
    return [left / W, 1 - (top + height) / H, width / W, height / H]


def blank(ax):
    ax.set_xticks([])
    ax.set_yticks([])
    for s in ax.spines.values():
        s.set_visible(False)


for i, iso in enumerate(isotypes):
    for j, ag in enumerate(antigens):
        ax = fig.add_axes(fig_rect(col_left[j], row_top[i], panel_w, panel_h))
        child, adult, rug_l, rug_r = panels[(ag, iso)]

        ax.axvline(np.sqrt(ref_day), color="black", lw=1.2, ls=(0, (1, 4.5)), zorder=1)

        for row in adult:
            ax.plot(adult_x, np.array(row, dtype=float), color=ADULT_COLOR,
                    alpha=0.55, lw=1.25, zorder=2, solid_capstyle="butt")
        for row in child:
            ax.plot(child_x, np.array(row, dtype=float), color=CHILD_COLOR,
                    alpha=0.6, lw=1.3, zorder=3, solid_capstyle="butt")

        ytr = ax.get_yaxis_transform()
        ax.hlines(rug_l, 0, 0.036, transform=ytr, color="red", alpha=0.42, lw=1.1, zorder=4)
        ax.hlines(rug_r, 0.964, 1.0, transform=ytr, color="black", alpha=0.42, lw=1.1, zorder=4)

        ax.set_xlim(x_lo, x_hi)
        ax.set_ylim(y_lo, y_hi)
        ax.set_facecolor("white")
        for side in ["top", "right"]:
            ax.spines[side].set_visible(False)
        ax.spines["left"].set_visible(j == 0)
        ax.spines["bottom"].set_visible(i == 2)
        for side in ["left", "bottom"]:
            ax.spines[side].set_linewidth(1.1)
            ax.spines[side].set_color("black")

        ax.set_xticks(np.sqrt(x_ticks))
        ax.set_yticks(y_ticks)
        ax.tick_params(axis="both", direction="out", length=4, width=1.0,
                       color="black", labelcolor=TEXT_COLOR, labelsize=12.5, pad=2)
        if i == 2:
            ax.set_xticklabels([str(t) for t in x_ticks])
        else:
            ax.tick_params(axis="x", bottom=False, labelbottom=False)
        if j == 0:
            ax.set_yticklabels([str(t) for t in y_ticks])
        else:
            ax.tick_params(axis="y", left=False, labelleft=False)

        # column strip
        if i == 0:
            sax = fig.add_axes(fig_rect(col_left[j], row_top[0] - strip_h - 1, panel_w, strip_h))
            sax.set_facecolor(STRIP_COLOR)
            blank(sax)
            sax.text(0.5, 0.47, ag, ha="center", va="center", fontsize=13.5, color=TEXT_COLOR,
                     transform=sax.transAxes)

    # row strip
    rax = fig.add_axes(fig_rect(1082, row_top[i], 22, panel_h))
    rax.set_facecolor(STRIP_COLOR)
    blank(rax)
    rax.text(0.5, 0.5, iso, ha="center", va="center", rotation=-90, fontsize=13.5,
             color=TEXT_COLOR, transform=rax.transAxes)

# axis titles
fig.text(19 / W, 1 - 355 / H, "log10(Net MFI)", rotation=90, ha="center", va="center",
         fontsize=15, color=TEXT_COLOR)
fig.text(568 / W, 1 - 716 / H, "Days Post First Dose", ha="center", va="center",
         fontsize=15, color=TEXT_COLOR)

# legend
ly = 1 - 762 / H
fig.text(57 / W, ly, "Age Group", ha="left", va="center", fontsize=15, color=TEXT_COLOR)
fig.add_artist(Line2D([184 / W, 197 / W], [ly, ly], color=CHILD_COLOR, alpha=0.6, lw=1.3))
fig.text(208 / W, ly, "<18 years", ha="left", va="center", fontsize=13, color=TEXT_COLOR)
fig.add_artist(Line2D([313 / W, 326 / W], [ly, ly], color=ADULT_COLOR, alpha=0.5, lw=1.3))
fig.text(337 / W, ly, "18+ years", ha="left", va="center", fontsize=13, color=TEXT_COLOR)

fig.savefig("out.png", dpi=100, facecolor="white")
